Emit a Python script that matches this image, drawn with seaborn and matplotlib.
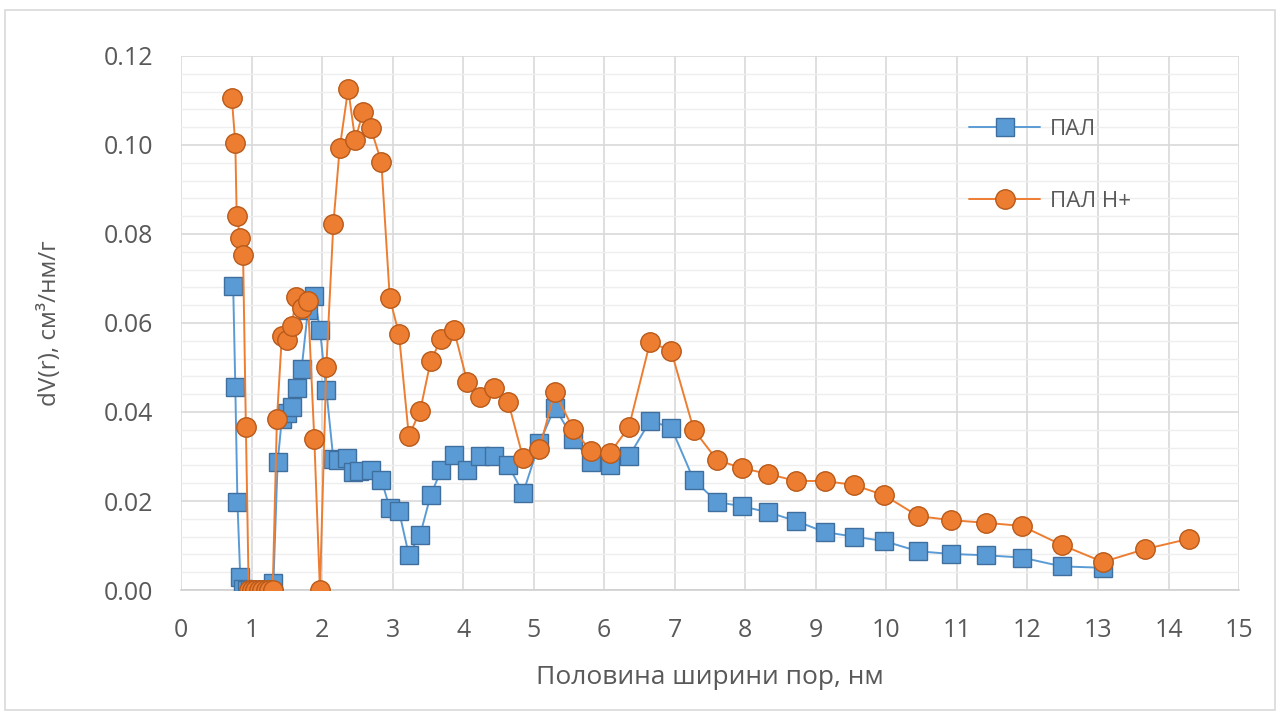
import numpy as np
import pandas as pd
import seaborn as sns
import matplotlib.pyplot as plt
from matplotlib.lines import Line2D
from matplotlib.patches import Rectangle
from matplotlib.ticker import MultipleLocator

# Data
pal_x = [0.74, 0.77, 0.80, 0.84, 0.88, 0.93, 0.98, 1.03, 1.08, 1.13, 1.18, 1.23, 1.31,
         1.37, 1.43, 1.50, 1.57, 1.64, 1.71, 1.80, 1.89, 1.97, 2.06, 2.16, 2.22, 2.36,
         2.44, 2.52, 2.69, 2.84, 2.96, 3.09, 3.23, 3.39, 3.54, 3.69, 3.87, 4.06, 4.24,
         4.44, 4.64, 4.85, 5.08, 5.30, 5.56, 5.81, 6.08, 6.35, 6.65, 6.95, 7.27, 7.60,
         7.95, 8.32, 8.72, 9.13, 9.54, 9.97, 10.45, 10.92, 11.41, 11.92, 12.49, 13.07]
pal_y = [0.0682, 0.0457, 0.0198, 0.0030, 0.0003, 0.0, 0.0, 0.0, 0.0, 0.0, 0.0, 0.0, 0.0015,
         0.0287, 0.0385, 0.0398, 0.0412, 0.0455, 0.0497, 0.0630, 0.0661, 0.0585, 0.0450,
         0.0294, 0.0293, 0.0297, 0.0266, 0.0268, 0.0270, 0.0248, 0.0184, 0.0178, 0.0079,
         0.0124, 0.0213, 0.0270, 0.0303, 0.0270, 0.0300, 0.0300, 0.0280, 0.0218, 0.0330,
         0.0410, 0.0340, 0.0288, 0.0282, 0.0300, 0.0380, 0.0365, 0.0247, 0.0198, 0.0188,
         0.0175, 0.0155, 0.0130, 0.0120, 0.0110, 0.0087, 0.0081, 0.0078, 0.0073, 0.0053,
         0.0050]

palh_x = [0.72, 0.77, 0.79, 0.84, 0.88, 0.92, 0.96, 1.00, 1.05, 1.10, 1.15, 1.20, 1.25,
          1.30, 1.36, 1.43, 1.50, 1.57, 1.63, 1.72, 1.80, 1.89, 1.97, 2.06, 2.16, 2.25,
          2.37, 2.47, 2.58, 2.69, 2.84, 2.96, 3.09, 3.23, 3.39, 3.54, 3.69, 3.87, 4.06,
          4.24, 4.44, 4.64, 4.85, 5.08, 5.30, 5.56, 5.81, 6.08, 6.35, 6.65, 6.95, 7.27,
          7.60, 7.95, 8.32, 8.72, 9.13, 9.54, 9.97, 10.45, 10.92, 11.41, 11.92, 12.49,
          13.07, 13.67, 14.29]
palh_y = [0.1106, 0.1004, 0.0840, 0.0791, 0.0753, 0.0366, 0.0, 0.0, 0.0, 0.0, 0.0, 0.0,
          0.0, 0.0, 0.0384, 0.0571, 0.0562, 0.0593, 0.0658, 0.0634, 0.0650, 0.0339, 0.0,
          0.0501, 0.0822, 0.0993, 0.1126, 0.1011, 0.1074, 0.1038, 0.0962, 0.0656, 0.0575,
          0.0346, 0.0402, 0.0515, 0.0564, 0.0584, 0.0467, 0.0434, 0.0454, 0.0422, 0.0297,
          0.0317, 0.0445, 0.0362, 0.0312, 0.0308, 0.0366, 0.0557, 0.0537, 0.0360, 0.0292,
          0.0274, 0.0261, 0.0245, 0.0245, 0.0236, 0.0213, 0.0166, 0.0157, 0.0151, 0.0144,
          0.0101, 0.0063, 0.0092, 0.0115]

x_ticks = list(range(0, 16))
y_ticks = [0.00, 0.02, 0.04, 0.06, 0.08, 0.10, 0.12]

sns.set_style("white")
plt.rcParams['font.family'] = ['Open Sans', 'DejaVu Sans']

blue, blue_edge = '#5b9bd5', '#3f6f9e'
orange, orange_edge = '#ed7d31', '#b85a1a'
txt = '#595959'

fig = plt.figure(figsize=(12.8, 7.13), dpi=100)
ax = fig.add_axes([0.1414, 0.1725, 0.8266, 0.749])

df_pal = pd.DataFrame({'x': pal_x, 'y': pal_y})
df_palh = pd.DataFrame({'x': palh_x, 'y': palh_y})

sns.lineplot(data=df_pal, x='x', y='y', ax=ax, sort=False, color=blue, lw=1.4,
             marker='s', markersize=12.5, markerfacecolor=blue, markeredgecolor=blue_edge,
             markeredgewidth=1.0, zorder=3)
sns.lineplot(data=df_palh, x='x', y='y', ax=ax, sort=False, color=orange, lw=1.4,
             marker='o', markersize=14, markerfacecolor=orange, markeredgecolor=orange_edge,
             markeredgewidth=1.0, zorder=4)

ax.set_xlim(0, 15)
ax.set_ylim(0, 0.12)
ax.set_xticks(x_ticks)
ax.set_yticks(y_ticks)
ax.set_yticklabels([f"{v:.2f}" for v in y_ticks])
ax.yaxis.set_minor_locator(MultipleLocator(0.004))
ax.grid(True, which='major', color='#d9d9d9', lw=1.2)
ax.grid(True, which='minor', axis='y', color='#eeeeee', lw=1.0)
ax.set_axisbelow(True)
for s in ['top', 'right', 'left']:
    ax.spines[s].set_visible(False)
ax.spines['bottom'].set_color('#d0d0d0')
ax.spines['bottom'].set_linewidth(1.2)
ax.tick_params(axis='both', length=0, labelsize=18, colors=txt)
ax.tick_params(axis='x', pad=20)
ax.tick_params(axis='y', pad=20)

ax.set_xlabel('Половина ширини пор, нм', fontsize=19, color=txt, labelpad=16)
ax.set_ylabel('dV(r), см³/нм/г', fontsize=17.5, color=txt, labelpad=30)

handles = [
    Line2D([], [], color=blue, lw=1.4, marker='s', markersize=12.5,
           markerfacecolor=blue, markeredgecolor=blue_edge),
    Line2D([], [], color=orange, lw=1.4, marker='o', markersize=14,
           markerfacecolor=orange, markeredgecolor=orange_edge),
]
leg = ax.legend(handles, ['ПАЛ', 'ПАЛ Н+'], loc='upper left', bbox_to_anchor=(0.726, 0.92),
                frameon=False, fontsize=16, labelspacing=2.3, handlelength=3.2,
                handletextpad=0.45)
for t in leg.get_texts():
    t.set_color(txt)

fig.patches.append(Rectangle((0.004, 0.004), 0.992, 0.982, transform=fig.transFigure,
                             fill=False, edgecolor='#d9d9d9', lw=1.2))

fig.savefig('out.png', dpi=100)
